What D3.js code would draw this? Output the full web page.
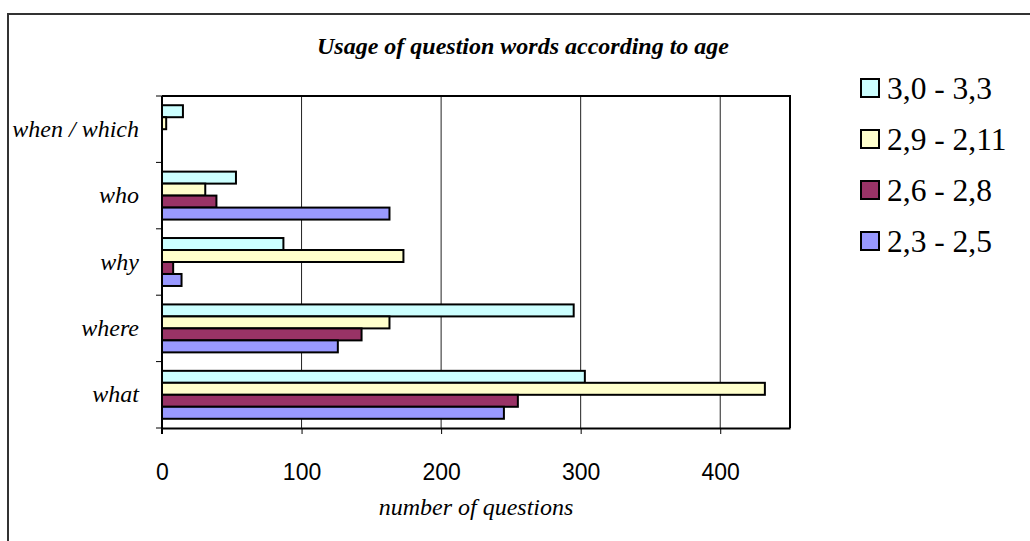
<!DOCTYPE html>
<html>
<head>
<meta charset="utf-8">
<script src="https://cdn.jsdelivr.net/npm/d3@7"></script>
<style>
  html, body { margin: 0; padding: 0; background: #fff; }
  svg { display: block; }
</style>
</head>
<body>
<div id="chart"></div>
<script>
// Question words, listed top to bottom as in the chart
const categories = ["when / which", "who", "why", "where", "what"];

// Age groups (legend order, also bar order top to bottom inside a group)
const seriesNames = ["3,0 - 3,3", "2,9 - 2,11", "2,6 - 2,8", "2,3 - 2,5"];
const seriesColors = ["#CCFFFF", "#FFFFCC", "#993366", "#9999FF"];

// number of questions per category, one array per age group
const age30to33 = [15, 53, 87, 295, 303];
const age29to211 = [3, 31, 173, 163, 432];
const age26to28 = [0, 39, 8, 143, 255];
const age23to25 = [0, 163, 14, 126, 245];

const xTicks = [0, 100, 200, 300, 400];

const seriesValues = [age30to33, age29to211, age26to28, age23to25];

const width = 1030, height = 541;
const plot = { left: 162, top: 96, right: 790, bottom: 428 };
const serif = '"Liberation Serif", "Times New Roman", serif';

const svg = d3.select('#chart').append('svg')
  .attr('width', width)
  .attr('height', height);

// outer chart frame (runs off the page on right/bottom)
svg.append('rect')
  .attr('x', 8).attr('y', 14)
  .attr('width', 1040).attr('height', 600)
  .attr('fill', '#fff')
  .attr('stroke', '#333')
  .attr('stroke-width', 2);

const x = d3.scaleLinear().domain([0, 450]).range([plot.left, plot.right]);
const y0 = d3.scaleBand().domain(categories).range([plot.top, plot.bottom]).padding(0);
const y1 = d3.scaleBand().domain(seriesNames).range([0, y0.bandwidth()])
  .paddingInner(0).paddingOuter(0.77);

// vertical gridlines
svg.append('g')
  .selectAll('line')
  .data(xTicks.filter(d => d > 0))
  .join('line')
  .attr('x1', d => x(d)).attr('x2', d => x(d))
  .attr('y1', plot.top).attr('y2', plot.bottom)
  .attr('stroke', '#222')
  .attr('stroke-width', 1);

// bars
const rows = [];
seriesNames.forEach((s, i) => {
  categories.forEach((c, j) => {
    rows.push({ series: s, category: c, value: seriesValues[i][j], color: seriesColors[i] });
  });
});

svg.append('g')
  .selectAll('rect')
  .data(rows.filter(d => d.value > 0))
  .join('rect')
  .attr('x', x(0))
  .attr('y', d => y0(d.category) + y1(d.series))
  .attr('width', d => x(d.value) - x(0))
  .attr('height', y1.bandwidth())
  .attr('fill', d => d.color)
  .attr('stroke', '#000')
  .attr('stroke-width', 2);

// plot border: top & right
svg.append('path')
  .attr('d', `M${plot.left},${plot.top}H${plot.right}V${plot.bottom}`)
  .attr('fill', 'none')
  .attr('stroke', '#000')
  .attr('stroke-width', 2);

// x axis
const xAxis = svg.append('g')
  .attr('transform', `translate(0,${plot.bottom})`)
  .call(d3.axisBottom(x).tickValues(xTicks).tickSize(6).tickPadding(30).tickSizeOuter(0));
xAxis.select('.domain').attr('stroke', '#000').attr('stroke-width', 2);
xAxis.selectAll('.tick line').attr('stroke', '#000').attr('stroke-width', 1);
xAxis.selectAll('.tick text')
  .attr('fill', '#000')
  .style('font-family', '"Liberation Sans", Arial, sans-serif')
  .style('font-size', '23px');

// y axis: ticks at band boundaries, labels in band centres
const yAxisG = svg.append('g');
yAxisG.append('line')
  .attr('x1', plot.left).attr('x2', plot.left)
  .attr('y1', plot.top).attr('y2', plot.bottom + 6)
  .attr('stroke', '#000').attr('stroke-width', 2);
const boundaries = categories.map(c => y0(c)).concat([plot.bottom]);
yAxisG.selectAll('.ytick')
  .data(boundaries)
  .join('line')
  .attr('class', 'ytick')
  .attr('x1', plot.left - 6).attr('x2', plot.left)
  .attr('y1', d => d).attr('y2', d => d)
  .attr('stroke', '#000').attr('stroke-width', 1);
yAxisG.selectAll('.ylab')
  .data(categories)
  .join('text')
  .attr('class', 'ylab')
  .attr('x', 139)
  .attr('y', d => y0(d) + y0.bandwidth() / 2)
  .attr('dy', '0.32em')
  .attr('text-anchor', 'end')
  .style('font-family', serif)
  .style('font-style', 'italic')
  .style('font-size', '24px')
  .text(d => d);

// chart title
svg.append('text')
  .attr('x', 523).attr('y', 54)
  .attr('text-anchor', 'middle')
  .style('font-family', serif)
  .style('font-style', 'italic')
  .style('font-weight', 'bold')
  .style('font-size', '24px')
  .text('Usage of question words according to age');

// x axis title
svg.append('text')
  .attr('x', (plot.left + plot.right) / 2).attr('y', 515)
  .attr('text-anchor', 'middle')
  .style('font-family', serif)
  .style('font-style', 'italic')
  .style('font-size', '24px')
  .text('number of questions');

// legend
const legend = svg.append('g').attr('transform', 'translate(860,78)');
seriesNames.forEach((s, i) => {
  const row = legend.append('g').attr('transform', `translate(0,${i * 51})`);
  row.append('rect')
    .attr('x', 1).attr('y', 1)
    .attr('width', 18).attr('height', 18)
    .attr('fill', seriesColors[i])
    .attr('stroke', '#000')
    .attr('stroke-width', 2);
  row.append('text')
    .attr('x', 27).attr('y', 10)
    .attr('dy', '0.35em')
    .style('font-family', serif)
    .style('font-size', '31.5px')
    .text(s);
});
</script>
</body>
</html>
